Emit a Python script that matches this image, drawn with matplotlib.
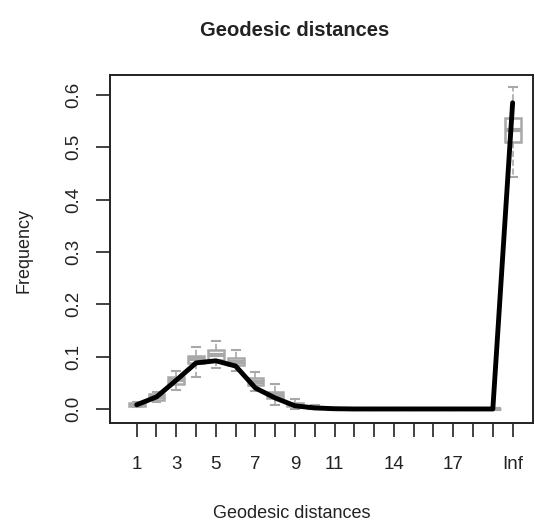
import matplotlib
matplotlib.use("Agg")
import matplotlib.pyplot as plt
import numpy as np

plt.rcParams['font.family'] = ['Liberation Sans', 'DejaVu Sans']

# Data
positions = list(range(1, 21))
tick_labels = ['1', '', '3', '', '5', '', '7', '', '9', '', '11', '', '', '14', '', '', '17', '', '', 'Inf']
observed = [0.008, 0.023, 0.055, 0.088, 0.092, 0.082, 0.040, 0.021, 0.006, 0.002,
            0.0005, 0.0, 0.0, 0.0, 0.0, 0.0, 0.0, 0.0, 0.0, 0.585]
q1 = [0.005, 0.018, 0.047, 0.088, 0.094, 0.084, 0.046, 0.021, 0.005, 0.001,
      0.0, 0.0, 0.0, 0.0, 0.0, 0.0, 0.0, 0.0, 0.0, 0.510]
med = [0.008, 0.023, 0.055, 0.095, 0.103, 0.090, 0.052, 0.027, 0.008, 0.002,
       0.0005, 0.0, 0.0, 0.0, 0.0, 0.0, 0.0, 0.0, 0.0, 0.533]
q3 = [0.011, 0.028, 0.062, 0.101, 0.113, 0.097, 0.059, 0.032, 0.012, 0.004,
      0.001, 0.0, 0.0, 0.0, 0.0, 0.0, 0.0, 0.0, 0.0, 0.556]
wlo = [0.003, 0.013, 0.037, 0.061, 0.078, 0.072, 0.035, 0.008, 0.0, 0.0,
       0.0, 0.0, 0.0, 0.0, 0.0, 0.0, 0.0, 0.0, 0.0, 0.444]
whi = [0.013, 0.033, 0.073, 0.119, 0.130, 0.113, 0.071, 0.048, 0.020, 0.008,
       0.002, 0.0, 0.0, 0.0, 0.0, 0.0, 0.0, 0.0, 0.0, 0.616]

fig = plt.figure(figsize=(5.35, 5.29), dpi=100)
ax = fig.add_axes([110/535, 1-423/529, (533-110)/535, (423-75)/529])

stats = []
for i in range(len(positions)):
    stats.append(dict(med=med[i], q1=q1[i], q3=q3[i], whislo=wlo[i], whishi=whi[i], fliers=[]))

gray = '#a8a8a8'
ax.bxp(stats, positions=positions, widths=0.8, patch_artist=True, showfliers=False,
       boxprops=dict(facecolor='white', edgecolor=gray, linewidth=1.8),
       medianprops=dict(color=gray, linewidth=3),
       whiskerprops=dict(color=gray, linewidth=1.2, linestyle='--'),
       capprops=dict(color=gray, linewidth=1.5), zorder=2)

ax.plot(positions, observed, color='black', linewidth=3.5, solid_joinstyle='round',
        solid_capstyle='round', zorder=3)

ax.set_xlim(-0.35, 21.03)
ax.set_ylim(-0.0268, 0.638)
ax.set_xticks(positions)
ax.set_xticklabels(tick_labels)
ax.set_yticks([0.0, 0.1, 0.2, 0.3, 0.4, 0.5, 0.6])
ax.set_yticklabels(['0.0', '0.1', '0.2', '0.3', '0.4', '0.5', '0.6'], rotation=90, va='center')

txtc = '#222222'
ax.tick_params(axis='both', direction='out', length=10, width=1.2, colors='#222222',
               labelsize=13.5, labelcolor=txtc)
ax.tick_params(axis='x', pad=14)
ax.tick_params(axis='y', pad=10)
for s in ax.spines.values():
    s.set_linewidth(1.4)
    s.set_color('#222222')

fig.text(295/535, 1-30/529, 'Geodesic distances', ha='center', va='center',
         fontsize=14.5, fontweight='bold', color=txtc)
fig.text(292/535, 1-514/529, 'Geodesic distances', ha='center', va='center',
         fontsize=13, color=txtc)
fig.text(24/535, 1-250/529, 'Frequency', ha='center', va='center', rotation=90,
         fontsize=13, color=txtc)

fig.savefig('out.png', dpi=100)
